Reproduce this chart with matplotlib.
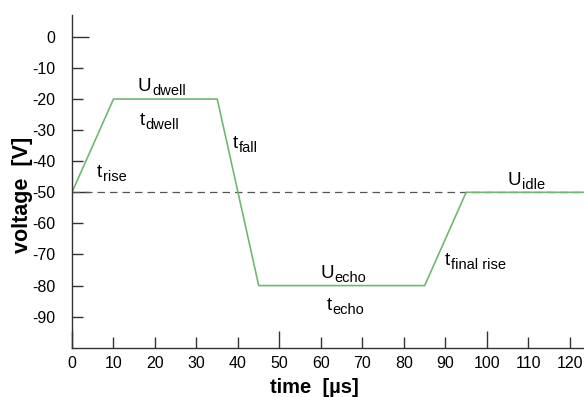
import matplotlib
matplotlib.use('Agg')
import matplotlib.pyplot as plt

# 데이터
time_us = [0, 10, 35, 45, 85, 95, 124]
voltage = [-50, -20, -20, -80, -80, -50, -50]
idle_level = -50
x_major = [0, 50, 100]
x_minor = [10, 20, 30, 40, 60, 70, 80, 90, 110, 120]
y_major = [0, -50]
y_minor = [-10, -20, -30, -40, -60, -70, -80, -90]

# 라벨 (기호, 아래첨자, x, y=기준선)
annot_main = ['t', 'U', 't', 't', 'U', 't', 't', 'U']
annot_sub = ['rise', 'dwell', 'dwell', 'fall', 'echo', 'echo', 'final rise', 'idle']
annot_x = [6.0, 15.9, 16.4, 38.8, 59.8, 61.4, 89.9, 105.0]
annot_y = [-45.2, -17.3, -28.5, -35.9, -77.6, -87.8, -73.4, -47.8]

plt.rcParams['font.family'] = ['Liberation Sans', 'DejaVu Sans']
plt.rcParams['axes.unicode_minus'] = False

fig = plt.figure(figsize=(5.84, 3.97), dpi=100)
ax = fig.add_axes([0.1233, 0.124, 0.8767, 0.838])

ax.axhline(idle_level, color='#555555', lw=0.9, ls=(0, (6, 4)))
ax.plot(time_us, voltage, color='#70b870', lw=1.2)

for m, s, x, y in zip(annot_main, annot_sub, annot_x, annot_y):
    t = ax.text(x, y, m, fontsize=13.5, ha='left', va='baseline')
    ax.annotate(s, xy=(1.0, 0.0), xycoords=t, xytext=(0.5, 0), textcoords='offset points',
                fontsize=10.5, ha='left', va='baseline')

ax.set_xlim(0, 123.4)
ax.set_ylim(-100, 7)
ax.set_xticks(x_major)
ax.set_xticks(x_minor, labels=[str(v) for v in x_minor], minor=True)
ax.set_yticks(y_major)
ax.set_yticks(y_minor, labels=[str(v) for v in y_minor], minor=True)
ax.spines['top'].set_visible(False)
ax.spines['right'].set_visible(False)
for sp in ['left', 'bottom']:
    ax.spines[sp].set_color('#333333')
    ax.spines[sp].set_linewidth(1.0)
ax.tick_params(which='both', direction='in', width=1, color='#333333', labelsize=11.5)
ax.tick_params(which='major', length=12)
ax.tick_params(which='minor', length=8)
ax.tick_params(axis='x', which='both', pad=6)
ax.tick_params(axis='y', which='both', pad=12)
ax.set_xlabel('time  [µs]', fontsize=14.5, fontweight='bold')
ax.set_ylabel('voltage  [V]', fontsize=15.5, fontweight='bold')
ax.xaxis.set_label_coords(0.473, -0.09)
ax.yaxis.set_label_coords(-0.076, 0.46)

fig.savefig('out.png', dpi=100)
